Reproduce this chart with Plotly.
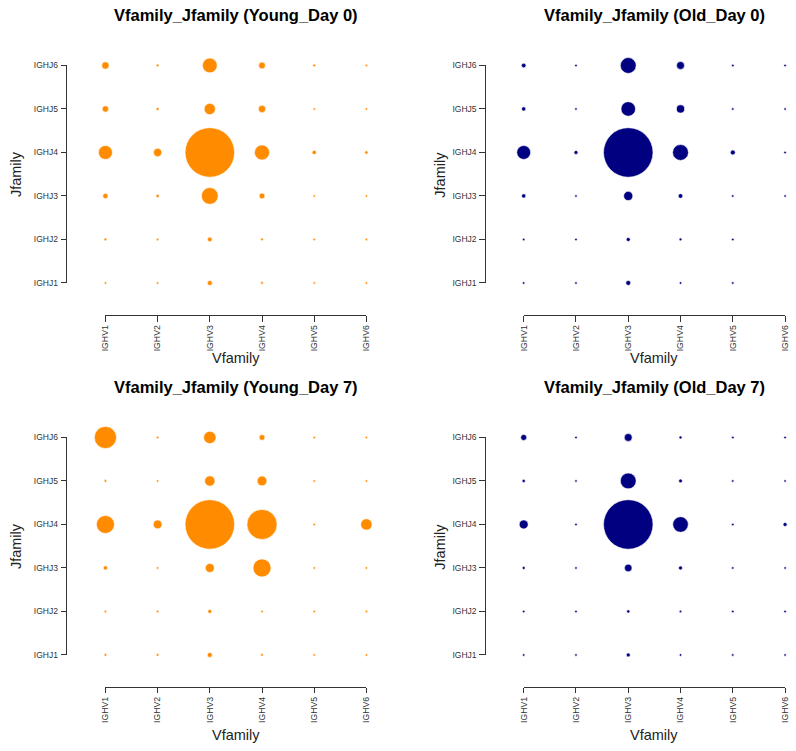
import plotly.graph_objects as go

# ---------------- data ----------------
v_families = ["IGHV1", "IGHV2", "IGHV3", "IGHV4", "IGHV5", "IGHV6"]
j_families = ["IGHJ1", "IGHJ2", "IGHJ3", "IGHJ4", "IGHJ5", "IGHJ6"]

# frequency (%) per cell; rows = IGHJ1..IGHJ6, columns = IGHV1..IGHV6
young_day0 = [
    [0.09, 0.05, 0.41, 0.12, 0.05, 0.05],
    [0.12, 0.05, 0.36, 0.12, 0.066, 0.05],
    [0.46, 0.18, 4.6, 0.53, 0.066, 0.066],
    [3.2, 1.13, 40.0, 3.7, 0.30, 0.18],
    [0.65, 0.15, 2.1, 0.88, 0.087, 0.087],
    [0.88, 0.12, 3.56, 0.74, 0.12, 0.066],
]
old_day0 = [
    [0.064, 0.027, 0.40, 0.085, 0.046, 0.0],
    [0.046, 0.046, 0.26, 0.12, 0.046, 0.0],
    [0.30, 0.064, 1.38, 0.35, 0.046, 0.046],
    [3.14, 0.26, 40.0, 4.1, 0.40, 0.046],
    [0.30, 0.064, 3.46, 1.10, 0.085, 0.064],
    [0.35, 0.046, 4.1, 1.02, 0.064, 0.046],
]
young_day7 = [
    [0.12, 0.12, 0.41, 0.12, 0.048, 0.048],
    [0.048, 0.048, 0.26, 0.066, 0.048, 0.048],
    [0.30, 0.066, 1.33, 5.33, 0.048, 0.066],
    [5.33, 1.25, 40.0, 14.8, 0.087, 2.10],
    [0.12, 0.066, 1.75, 1.55, 0.048, 0.087],
    [7.97, 0.048, 2.49, 0.53, 0.048, 0.087],
]
old_day7 = [
    [0.046, 0.046, 0.26, 0.085, 0.046, 0.046],
    [0.064, 0.046, 0.17, 0.085, 0.046, 0.064],
    [0.144, 0.046, 0.95, 0.26, 0.046, 0.046],
    [1.30, 0.064, 40.0, 3.94, 0.064, 0.26],
    [0.17, 0.046, 4.1, 0.22, 0.046, 0.064],
    [0.58, 0.027, 1.02, 0.144, 0.085, 0.064],
]

panel_titles = ["Vfamily_Jfamily (Young_Day 0)", "Vfamily_Jfamily (Old_Day 0)",
                "Vfamily_Jfamily (Young_Day 7)", "Vfamily_Jfamily (Old_Day 7)"]
panel_data = [young_day0, old_day0, young_day7, old_day7]
panel_colors = ["#FF8C00", "#000080", "#FF8C00", "#000080"]

# ---------------- layout (pixel positions) ----------------
W, H = 796, 751
FONT = "Liberation Sans, Arial, Helvetica, sans-serif"
MAX_D = 49.5

def fx(x):
    return x / W

def fy(y):
    return 1 - y / H

# x0, x1 (tick span), y_top, y_bot (tick span), xaxis line y, yaxis line x,
# title y, xlabel y, ylabel x
geom = [
    (101.7, 366.0, 61.3, 281.7, 314.3, 62.0, 10.5, 358.0, 11.0),
    (525.3, 790.0, 61.3, 281.7, 314.3, 486.0, 10.5, 358.0, 441.0),
    (101.7, 366.0, 438.3, 658.7, 691.0, 62.0, 387.0, 740.0, 11.0),
    (525.3, 790.0, 438.3, 658.7, 691.0, 486.0, 387.0, 740.0, 441.0),
]

fig = go.Figure()
annotations = []
layout_axes = {}

for i, (title, data, color, g) in enumerate(zip(panel_titles, panel_data, panel_colors, geom)):
    x0, x1, yt, yb, xl_y, yl_x, t_y, xlab_y, ylab_x = g
    n = i + 1
    xs, ys, ss = [], [], []
    for r, jf in enumerate(j_families):
        for c, vf in enumerate(v_families):
            xs.append(vf)
            ys.append(jf)
            ss.append(data[r][c])
    vmax = max(ss)
    fig.add_trace(go.Scatter(
        x=xs, y=ys, mode="markers",
        xaxis=f"x{n}", yaxis=f"y{n}",
        cliponaxis=False,
        marker=dict(size=ss, sizemode="area", sizeref=2 * vmax / MAX_D ** 2,
                    sizemin=1.2, color=color, opacity=1,
                    line=dict(color="white", width=0.6)),
        showlegend=False, hoverinfo="x+y",
    ))
    axcommon = dict(type="category", showgrid=False, zeroline=False,
                    showline=True, linecolor="#333", linewidth=1.3,
                    ticks="outside", ticklen=5.5, tickwidth=1.3, tickcolor="#333",
                    range=[0, 5], fixedrange=True)
    layout_axes[f"xaxis{n}"] = dict(axcommon, domain=[fx(x0), fx(x1)],
                                    tickfont=dict(family=FONT, size=8.7, color="#333"),
                                    categoryorder="array", categoryarray=v_families,
                                    anchor="free", position=fy(xl_y), tickangle=-90)
    layout_axes[f"yaxis{n}"] = dict(axcommon, domain=[fy(yb), fy(yt)],
                                    tickfont=dict(family=FONT, size=8.5, color="#333"),
                                    ticklabelstandoff=1,
                                    categoryorder="array", categoryarray=j_families,
                                    anchor="free", position=fx(yl_x))
    cx = (x0 + x1) / 2
    annotations.append(dict(text=f"<b>{title}</b>", x=fx(cx), y=fy(t_y), xref="paper", yref="paper",
                            showarrow=False, xanchor="center", yanchor="middle",
                            font=dict(family=FONT, size=16.5, color="#000")))
    annotations.append(dict(text="Vfamily", x=fx(cx), y=fy(xlab_y), xref="paper", yref="paper",
                            showarrow=False, xanchor="center", yanchor="middle",
                            font=dict(family=FONT, size=14.5, color="#222")))
    annotations.append(dict(text="Jfamily", x=fx(ylab_x), y=fy((yt + yb) / 2), xref="paper", yref="paper",
                            showarrow=False, xanchor="center", yanchor="middle", textangle=-90,
                            font=dict(family=FONT, size=14.5, color="#222")))

fig.update_layout(
    width=W, height=H,
    margin=dict(l=0, r=0, t=0, b=0),
    paper_bgcolor="white", plot_bgcolor="white",
    annotations=annotations,
    **layout_axes,
)

fig.write_html("out.html", config={"displayModeBar": False},
               post_script="document.body.style.margin='0';document.body.style.overflow='hidden';")
